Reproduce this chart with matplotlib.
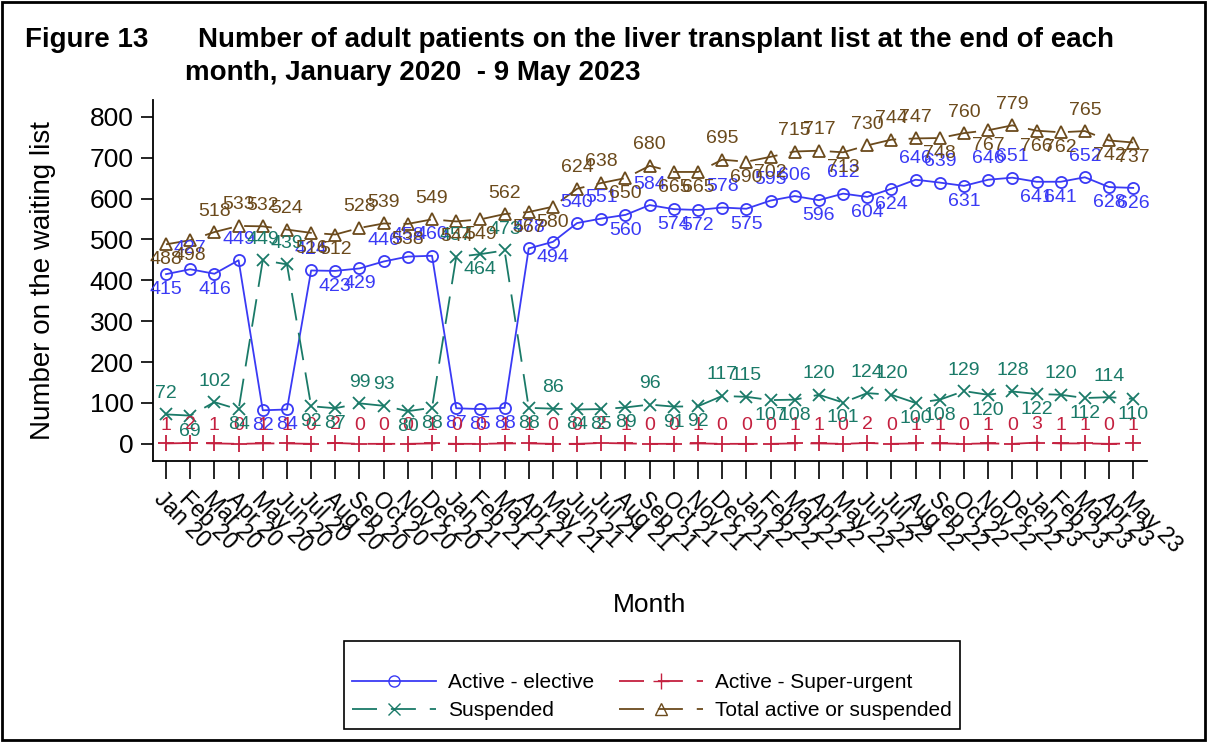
import matplotlib
matplotlib.use("Agg")
import matplotlib.pyplot as plt
import matplotlib.transforms as mtransforms
from matplotlib.lines import Line2D
from matplotlib.patches import Rectangle

plt.rcParams['font.family'] = ['Liberation Sans', 'DejaVu Sans']
plt.rcParams['lines.scale_dashes'] = False

months = ["Jan 20", "Feb 20", "Mar 20", "Apr 20", "May 20", "Jun 20", "Jul 20", "Aug 20",
          "Sep 20", "Oct 20", "Nov 20", "Dec 20", "Jan 21", "Feb 21", "Mar 21", "Apr 21",
          "May 21", "Jun 21", "Jul 21", "Aug 21", "Sep 21", "Oct 21", "Nov 21", "Dec 21",
          "Jan 22", "Feb 22", "Mar 22", "Apr 22", "May 22", "Jun 22", "Jul 22", "Aug 22",
          "Sep 22", "Oct 22", "Nov 22", "Dec 22", "Jan 23", "Feb 23", "Mar 23", "Apr 23",
          "May 23"]

active_elective = [415, 427, 416, 449, 82, 84, 424, 423, 429, 446, 458, 460,
                   87, 85, 88, 478, 494, 540, 551, 560, 584, 574, 572, 578,
                   575, 595, 606, 596, 612, 604, 624, 646, 639, 631, 646, 651,
                   641, 641, 652, 628, 626]

super_urgent = [1, 2, 1, 0, 1, 1, 0, 2, 0, 0, 0, 1,
                0, 0, 1, 1, 0, 0, 2, 1, 0, 0, 1, 0,
                0, 0, 1, 1, 0, 2, 0, 1, 1, 0, 1, 0,
                3, 1, 1, 0, 1]

suspended = [72, 69, 102, 84, 449, 439, 92, 87, 99, 93, 80, 88,
             457, 464, 473, 88, 86, 84, 85, 89, 96, 91, 92, 117,
             115, 107, 108, 120, 101, 124, 120, 100, 108, 129, 120, 128,
             122, 120, 112, 114, 110]

total = [488, 498, 518, 533, 532, 524, 516, 512, 528, 539, 538, 549,
         544, 549, 562, 567, 580, 624, 638, 650, 680, 665, 665, 695,
         690, 702, 715, 717, 713, 730, 744, 747, 748, 760, 767, 779,
         766, 762, 765, 742, 737]

c_blue = "#3a3af5"
c_red = "#c4203f"
c_teal = "#1a7a68"
c_brown = "#6b4a1c"

W, H = 1207, 742
fig = plt.figure(figsize=(W / 100, H / 100), dpi=100)
ax = fig.add_axes([153 / W, 1 - 461 / H, (1147 - 153) / W, (461 - 100) / H])

x = list(range(len(months)))
dash = (20, 9)

ax.plot(x, active_elective, color=c_blue, lw=1.3, marker='o', ms=8, mfc='none', mew=1.3)
ax.plot(x, super_urgent, color=c_red, lw=1.3, ls=(0, dash), marker='+', ms=12, mew=1.3)
ax.plot(x, suspended, color=c_teal, lw=1.3, ls=(0, dash), marker='x', ms=9, mew=1.3)
ax.plot(x, total, color=c_brown, lw=1.3, ls=(0, dash), marker='^', ms=9, mfc='none', mew=1.3)


def label_series(vals, color, always_above=False):
    n = len(vals)
    for i, v in enumerate(vals):
        if always_above:
            up = True
        else:
            prev = vals[i - 1] if i > 0 else vals[i + 1]
            nxt = vals[i + 1] if i < n - 1 else vals[i - 1]
            up = v >= (prev + nxt) / 2
        off = (7 if always_above else 9) if up else -5
        ax.annotate(str(v), (i, v), xytext=(0, off), textcoords='offset points',
                    ha='center', va='bottom' if up else 'top', color=color, fontsize=14)


label_series(active_elective, c_blue)
label_series(super_urgent, c_red, always_above=True)
label_series(suspended, c_teal)
label_series(total, c_brown)

ax.set_xlim(-0.54, 40.57)
ax.set_ylim(-42, 841)
ax.set_yticks(range(0, 801, 100))
ax.set_xticks(x)
ax.set_xticklabels(months, rotation=-45, ha='left', va='top', rotation_mode='anchor', fontsize=16.5)
shift = mtransforms.ScaledTranslation(-9 / 100, 6 / 100, fig.dpi_scale_trans)
for lab in ax.get_xticklabels():
    lab.set_transform(lab.get_transform() + shift)
ax.tick_params(axis='y', labelsize=19, length=9, width=1.2, direction='out', pad=5)
ax.tick_params(axis='x', length=13, width=1.2, direction='out', pad=6)
for s in ['top', 'right']:
    ax.spines[s].set_visible(False)
for s in ['left', 'bottom']:
    ax.spines[s].set_linewidth(1.3)

ax.set_ylabel("Number on the waiting list", fontsize=20)
ax.yaxis.set_label_coords((56 - 153) / (1147 - 153), 0.5)
fig.text(650 / W, 1 - 605 / H, "Month", fontsize=19, ha='center', va='center')

fig.text(25 / W, 1 - 40 / H, "Figure 13", fontsize=20, fontweight='bold', va='center')
fig.text(198 / W, 1 - 40 / H, "Number of adult patients on the liver transplant list at the end of each",
         fontsize=20, fontweight='bold', va='center')
fig.text(185 / W, 1 - 73 / H, "month, January 2020  - 9 May 2023", fontsize=20, fontweight='bold',
         va='center')

handles = [
    Line2D([], [], color=c_blue, lw=1.3, marker='o', ms=8, mfc='none'),
    Line2D([], [], color=c_teal, lw=1.3, ls=(0, (18, 10)), marker='x', ms=9),
    Line2D([], [], color=c_red, lw=1.3, ls=(0, (18, 10)), marker='+', ms=12),
    Line2D([], [], color=c_brown, lw=1.3, ls=(0, (18, 10)), marker='^', ms=9, mfc='none'),
]
labels = ["Active - elective", "Suspended", "Active - Super-urgent", "Total active or suspended"]
leg = fig.legend(handles, labels, ncol=2, loc='center', bbox_to_anchor=(652 / W, 1 - 685 / H),
                 fontsize=15, frameon=True, fancybox=False, edgecolor='black', framealpha=1,
                 handlelength=4, columnspacing=1.2, handletextpad=0.6, labelspacing=0.45,
                 title=" ", title_fontsize=10, borderpad=0.4)
leg.get_frame().set_linewidth(1.2)

fig.patches.append(Rectangle((0.002, 0.003), 0.996, 0.994, transform=fig.transFigure,
                             fill=False, edgecolor='black', lw=2))

fig.savefig("out.png", dpi=100)
